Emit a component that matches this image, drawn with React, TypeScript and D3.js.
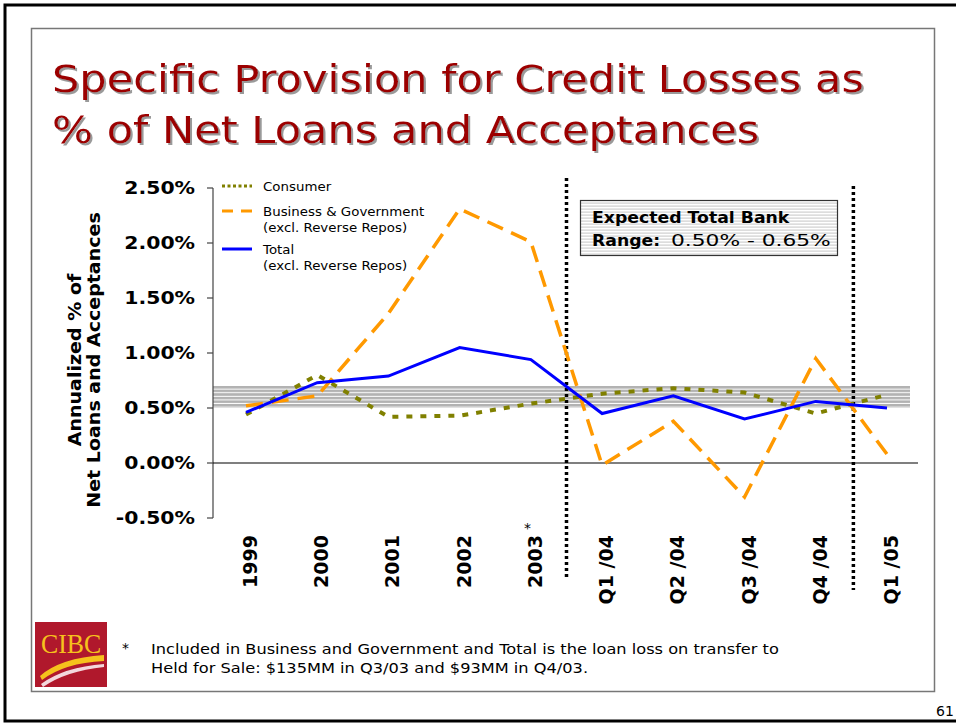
import React from 'react';
import * as d3 from 'd3';

const categories = ['1999', '2000', '2001', '2002', '2003', 'Q1 /04', 'Q2 /04', 'Q3 /04', 'Q4 /04', 'Q1 /05'];
const consumer = [0.44, 0.8, 0.42, 0.43, 0.54, 0.63, 0.68, 0.64, 0.45, 0.62];
const businessGov = [0.52, 0.61, 1.36, 2.31, 2.01, -0.02, 0.38, -0.31, 0.95, 0.08];
const total = [0.46, 0.73, 0.79, 1.05, 0.94, 0.45, 0.61, 0.4, 0.56, 0.5];
const yTicks = [-0.5, 0, 0.5, 1, 1.5, 2, 2.5];
const bandRange = [0.5, 0.7];
const titleLines = ['Specific Provision for Credit Losses as', '% of Net Loans and Acceptances'];
const yTitleLines = ['Annualized % of', 'Net Loans and Acceptances'];
const legendItems = [
  { lines: ['Consumer'], color: '#808000', dash: '3 2.5' },
  { lines: ['Business & Government', '(excl. Reverse Repos)'], color: '#ff9900', dash: '11 8' },
  { lines: ['Total', '(excl. Reverse Repos)'], color: '#0000ff', dash: 'none' },
];
const footLines = [
  'Included in Business and Government and Total is the loan loss on transfer to',
  'Held for Sale: $135MM in Q3/03 and $93MM in Q4/03.',
];

const FONT = "'DejaVu Sans', Verdana, sans-serif";

type STextProps = {
  x: number;
  y: number;
  sx: number;
  rot?: number;
  children: React.ReactNode;
  [k: string]: any;
};
function SText({ x, y, sx, rot = 0, children, ...rest }: STextProps) {
  return (
    <text transform={`translate(${x},${y}) rotate(${rot}) scale(${sx},1)`} {...rest}>
      {children}
    </text>
  );
}

export default function App() {
  const x = d3.scalePoint<string>().domain(categories).range([246, 887]);
  const y = d3.scaleLinear().domain([-0.5, 2.5]).range([518, 188]);
  const line = d3
    .line<number>()
    .x((_, i) => x(categories[i]) as number)
    .y((d) => y(d));
  const fmt = (v: number) => (v < 0 ? '-' : '') + Math.abs(v).toFixed(2) + '%';
  const sep1 = ((x(categories[4]) as number) + (x(categories[5]) as number)) / 2;
  const sep2 = ((x(categories[8]) as number) + (x(categories[9]) as number)) / 2 + 2;
  const legendY = [186, 211, 249];

  return (
    <svg
      width={956}
      height={723}
      style={{ position: 'absolute', left: 0, top: 0, background: '#fff' }}
      fontFamily={FONT}
    >
      <defs>
        <pattern id="band" width="8" height="3.6" patternUnits="userSpaceOnUse" y={y(bandRange[1])}>
          <rect width="8" height="3.6" fill="#b2b2b2" />
          <rect y="2.6" width="8" height="1" fill="#ffffff" />
        </pattern>
        <pattern id="boxfill" width="8" height="3" patternUnits="userSpaceOnUse">
          <rect width="8" height="3" fill="#ffffff" />
          <rect y="1.5" width="8" height="1.2" fill="#cfcfcf" />
        </pattern>
        <filter id="shadow" x="-5%" y="-20%" width="110%" height="150%">
          <feDropShadow dx="2" dy="2" stdDeviation="0.6" floodColor="#9a9a9a" floodOpacity="1" />
        </filter>
      </defs>

      {/* outer and inner frames */}
      <rect x={5} y={5} width={960} height={716} fill="none" stroke="#000" strokeWidth={3} />
      <rect x={31.5} y={28.5} width={903} height={663} fill="none" stroke="#777" strokeWidth={1.5} />
      <text x={936} y={716} fontSize={14}>61</text>

      {/* title */}
      <g filter="url(#shadow)">
        {titleLines.map((t, i) => (
          <SText key={t} x={52} y={92 + i * 51} sx={1.166} fontSize={37} fill="#9c0000">
            {t}
          </SText>
        ))}
      </g>

      {/* expected band */}
      <rect
        x={213}
        y={y(bandRange[1])}
        width={697}
        height={y(bandRange[0]) - y(bandRange[1])}
        fill="url(#band)"
      />

      {/* y axis */}
      <line x1={213} x2={213} y1={y(2.5)} y2={y(-0.5)} stroke="#444" strokeWidth={1.2} />
      {yTicks.map((t) => (
        <g key={t}>
          <line x1={207} x2={213} y1={y(t)} y2={y(t)} stroke="#444" strokeWidth={1.2} />
          <SText x={195} y={y(t) + 6} sx={1.2} textAnchor="end" fontSize={17} fontWeight="bold">
            {fmt(t)}
          </SText>
        </g>
      ))}
      <line x1={213} x2={918} y1={y(0)} y2={y(0)} stroke="#000" strokeWidth={1.2} />

      {/* y axis title */}
      {yTitleLines.map((t, i) => (
        <SText
          key={t}
          x={81 + i * 19}
          y={360}
          rot={-90}
          sx={1.12}
          textAnchor="middle"
          fontSize={17}
          fontWeight="bold"
        >
          {t}
        </SText>
      ))}

      {/* x labels */}
      {categories.map((c) => (
        <text
          key={c}
          transform={`translate(${(x(c) as number) + 11}, 535) rotate(-90)`}
          textAnchor="end"
          fontSize={19}
          fontWeight="bold"
        >
          {c}
        </text>
      ))}
      <text x={(x('2003') as number) - 7} y={533} fontSize={14}>*</text>

      {/* separators */}
      <line x1={sep1} x2={sep1} y1={178} y2={580} stroke="#000" strokeWidth={3.5} strokeDasharray="3 3" />
      <line x1={sep2} x2={sep2} y1={186} y2={590} stroke="#000" strokeWidth={3.5} strokeDasharray="3 3" />

      {/* series */}
      <path d={line(consumer) as string} fill="none" stroke="#808000" strokeWidth={4} strokeDasharray="6 8" />
      <path d={line(businessGov) as string} fill="none" stroke="#ff9900" strokeWidth={3.5} strokeDasharray="17 9" />
      <path d={line(total) as string} fill="none" stroke="#0000ff" strokeWidth={3} />

      {/* legend */}
      {legendItems.map((it, i) => (
        <g key={it.lines[0]}>
          <line
            x1={222}
            x2={252}
            y1={legendY[i]}
            y2={legendY[i]}
            stroke={it.color}
            strokeWidth={3}
            strokeDasharray={it.dash}
          />
          {it.lines.map((l, j) => (
            <SText key={l} x={263} y={legendY[i] + 4.5 + j * 16} sx={1.07} fontSize={12.5}>
              {l}
            </SText>
          ))}
        </g>
      ))}

      {/* range box */}
      <rect x={580.5} y={200.5} width={257} height={55} fill="url(#boxfill)" stroke="#333" strokeWidth={1.2} />
      <SText x={592} y={223} sx={1.08} fontSize={16} fontWeight="bold">
        Expected Total Bank
      </SText>
      <SText x={592} y={246} sx={1.08} fontSize={16} fontWeight="bold">
        Range:
      </SText>
      <SText x={671} y={246} sx={1.36} fontSize={16}>
        0.50% - 0.65%
      </SText>

      {/* logo */}
      <rect x={35} y={622} width={72} height={65} fill="#b0182c" />
      <SText
        x={71}
        y={653}
        sx={0.92}
        textAnchor="middle"
        fontFamily="'Liberation Serif', serif"
        fontSize={28}
        fill="#f6c21c"
      >
        CIBC
      </SText>
      <path d="M40,676 Q60,658 104,655 L104,661 Q64,663 42,680 Z" fill="#f6c21c" />
      <path d="M41,684 Q64,667 104,664 L104,667 Q66,671 43,687 Z" fill="#f3d7dc" />

      {/* footnote */}
      <text x={122} y={653} fontSize={14}>*</text>
      {footLines.map((t, i) => (
        <SText key={t} x={151} y={654 + i * 19} sx={1.2} fontSize={13.5}>
          {t}
        </SText>
      ))}
    </svg>
  );
}
